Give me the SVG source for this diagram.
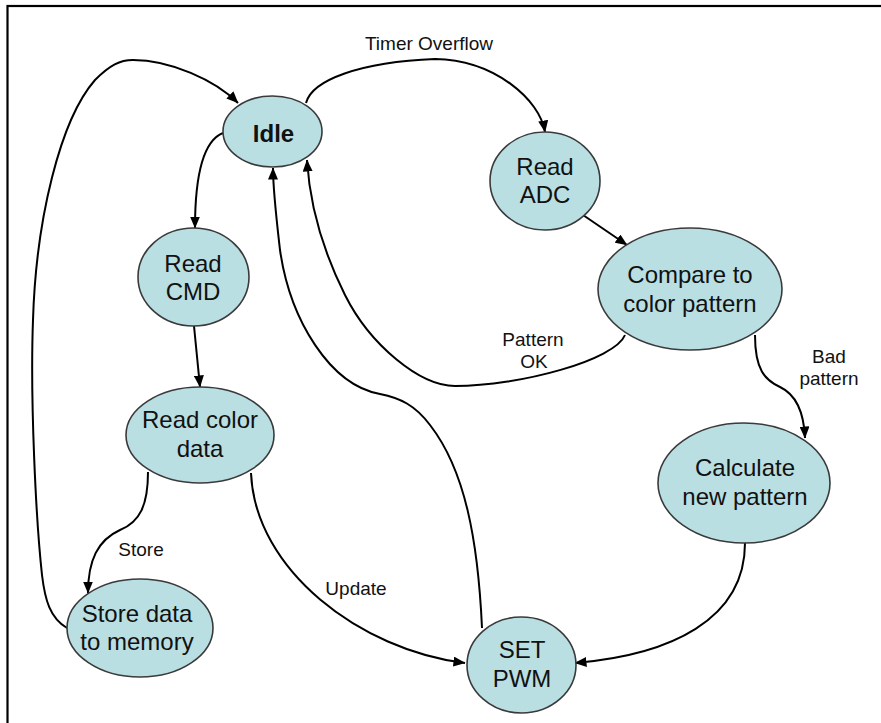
<svg xmlns="http://www.w3.org/2000/svg" width="881" height="723" viewBox="0 0 881 723">
  <defs>
    <marker id="arrow" viewBox="0 0 12 10" refX="11.5" refY="5" markerWidth="12" markerHeight="10" markerUnits="userSpaceOnUse" orient="auto">
      <path d="M0,0 L12,5 L0,10 z" fill="#000"/>
    </marker>
    <style>
      .state ellipse { fill: #b9dfe3; stroke: #3a3a3a; stroke-width: 1.6; }
      .state text { font-family: "Liberation Sans", Arial, sans-serif; font-size: 24px; fill: #111; text-anchor: middle; }
      .edge { fill: none; stroke: #000; stroke-width: 2; marker-end: url(#arrow); }
      .label { font-family: "Liberation Sans", Arial, sans-serif; font-size: 19px; fill: #111; text-anchor: middle; }
    </style>
  </defs>

  <rect width="881" height="723" fill="#fff"/>
  <!-- outer frame (only its top and left edges fall inside the view) -->
  <rect x="7.5" y="6" width="900" height="760" fill="none" stroke="#000" stroke-width="2.2"/>

  <g id="connectors">
    <!-- Store data to memory -> Idle -->
    <path class="edge" d="M 67,628 C 50,618 45,600 42,575 C 36,520 30,400 33,320 C 36,220 60,120 95,80 C 110,65 120,60 133,60 C 170,60 215,80 238,103"/>
    <!-- Idle -> Read ADC -->
    <path class="edge" d="M 306,103 C 312,80 360,62 435,59 C 495,60 540,100 545,132"/>
    <!-- Idle -> Read CMD -->
    <path class="edge" d="M 223,133 C 200,142 195,185 195,228"/>
    <!-- Read CMD -> Read color data -->
    <path class="edge" d="M 194,326 L 200,387"/>
    <!-- Read color data -> Store data to memory -->
    <path class="edge" d="M 148,472 C 148,505 140,522 120,530 C 98,540 88,560 88,593"/>
    <!-- Read color data -> SET PWM -->
    <path class="edge" d="M 251,473 C 255,570 360,650 465,663"/>
    <!-- SET PWM -> Idle -->
    <path class="edge" d="M 482,628 C 478,540 465,470 430,425 C 415,405 400,398 380,394 C 330,385 290,320 280,250 C 276,215 273,190 273,168"/>
    <!-- Compare to color pattern -> Idle -->
    <path class="edge" d="M 625,335 C 615,360 520,386 455,386 C 420,386 370,345 345,295 C 325,255 310,210 307,160"/>
    <!-- Read ADC -> Compare to color pattern -->
    <path class="edge" d="M 583,215 L 627,245"/>
    <!-- Compare to color pattern -> Calculate new pattern -->
    <path class="edge" d="M 755,335 C 755,370 765,380 780,387 C 797,395 804,415 805,438"/>
    <!-- Calculate new pattern -> SET PWM -->
    <path class="edge" d="M 745,543 C 745,620 670,655 575,663"/>

    <text class="label" x="429" y="50">Timer Overflow</text>
    <text class="label" x="533" y="346">Pattern</text>
    <text class="label" x="534" y="368">OK</text>
    <text class="label" x="829" y="363">Bad</text>
    <text class="label" x="829" y="385">pattern</text>
    <text class="label" x="141" y="556">Store</text>
    <text class="label" x="356" y="595">Update</text>
  </g>

  <g id="idle" class="state">
    <ellipse cx="272.5" cy="131.5" rx="49.5" ry="35.5"/>
    <text x="273.5" y="141.5" font-weight="bold">Idle</text>
  </g>
  <g id="read-adc" class="state">
    <ellipse cx="545" cy="181" rx="55" ry="49"/>
    <text x="545" y="175">Read</text>
    <text x="545" y="203">ADC</text>
  </g>
  <g id="compare" class="state">
    <ellipse cx="690" cy="289" rx="92" ry="61"/>
    <text x="690" y="283">Compare to</text>
    <text x="690" y="312">color pattern</text>
  </g>
  <g id="calculate" class="state">
    <ellipse cx="744" cy="483" rx="86" ry="60"/>
    <text x="745" y="476">Calculate</text>
    <text x="745" y="505">new pattern</text>
  </g>
  <g id="set-pwm" class="state">
    <ellipse cx="521.5" cy="665" rx="54.5" ry="48"/>
    <text x="522" y="658">SET</text>
    <text x="522" y="687">PWM</text>
  </g>
  <g id="read-cmd" class="state">
    <ellipse cx="193.5" cy="277" rx="55.5" ry="49"/>
    <text x="193" y="272">Read</text>
    <text x="193" y="300">CMD</text>
  </g>
  <g id="read-color" class="state">
    <ellipse cx="200" cy="435" rx="74" ry="48"/>
    <text x="200" y="428">Read color</text>
    <text x="200" y="457">data</text>
  </g>
  <g id="store" class="state">
    <ellipse cx="140" cy="628" rx="73" ry="49"/>
    <text x="137" y="622">Store data</text>
    <text x="137" y="650">to memory</text>
  </g>
</svg>
